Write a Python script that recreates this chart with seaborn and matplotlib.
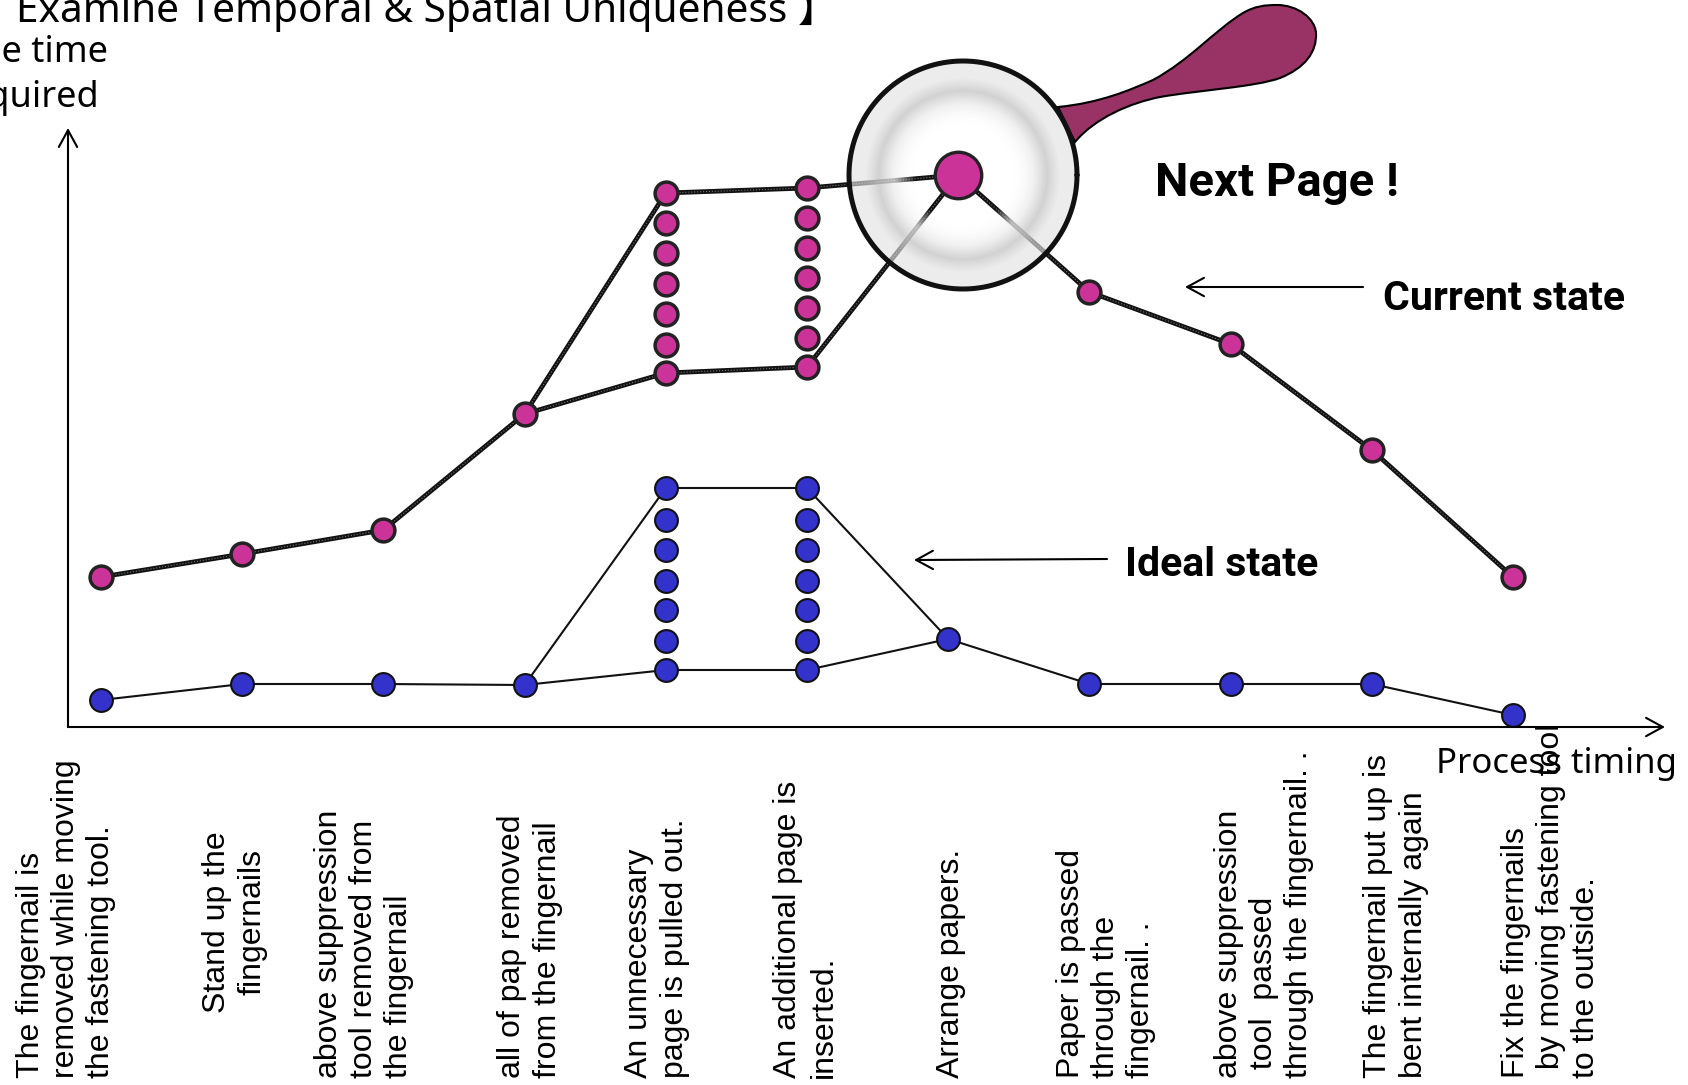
# %% biblioteke
import numpy as np
import pandas as pd
import matplotlib
matplotlib.use('Agg')
import matplotlib.pyplot as plt
from matplotlib.patches import PathPatch
from matplotlib.path import Path
import seaborn as sns

# %% podaci (time required)

current_upper_x = [0, 1, 2, 3, 4, 5, 6.07, 7, 8, 9, 10]
current_upper_y = [150, 173, 197, 313, 534, 539, 552, 435, 383, 277, 150]
current_lower_x = [3, 4, 5, 6.07]
current_lower_y = [313, 354, 360, 552]
current_col4_y = [534, 504, 474, 443, 413, 382, 354]
current_col5_y = [539, 509, 479, 449, 419, 389, 360]

ideal_lower_x = [0, 1, 2, 3, 4, 5, 6, 7, 8, 9, 10]
ideal_lower_y = [27, 43, 43, 42, 57, 57, 88, 43, 43, 43, 12]
ideal_upper_x = [3, 4, 5, 6]
ideal_upper_y = [42, 239, 239, 88]
ideal_col_y = [239, 207, 177, 146, 117, 86, 57]

step_labels = [
    'The fingernail is\nremoved while moving\nthe fastening tool.',
    'Stand up the\nfingernails',
    'above suppression\ntool removed from\nthe fingernail',
    'all of pap removed\nfrom the fingernail',
    'An unnecessary\npage is pulled out.',
    'An additional page is\ninserted.',
    'Arrange papers.',
    'Paper is passed\nthrough the\nfingernail. .',
    'above suppression\n tool  passed\nthrough the fingernail. .',
    'The fingernail put up is\nbent internally again',
    'Fix the fingernails\n by moving fastening tool\nto the outside.',
]
label_px = [66, 235, 364, 530, 657, 806, 951, 1106, 1264, 1396, 1551]

PINK = '#CC3399'
BLUE = '#3333CC'
HANDLE = '#993366'

# %% platno
sns.set_theme(style='white')
plt.rcParams['text.color'] = 'black'
plain = ['Noto Sans', 'Noto Sans CJK JP', 'DejaVu Sans']

W, H = 1688, 1085
STEP = 141.2
fig = plt.figure(figsize=(W / 100, H / 100), dpi=100)
ax = fig.add_axes([0, 0, 1, 1])
ax.axis('off')


def px(x):
    return (x - 101) / STEP


def py(y):
    return 727 - y


# %% linije
def draw_line(xs, ys, dark):
    d = pd.DataFrame({'x': xs, 'y': ys})
    if dark:
        sns.lineplot(data=d, x='x', y='y', sort=False, estimator=None, color='#111111',
                     linewidth=3.4, ax=ax, zorder=2)
        sns.lineplot(data=d, x='x', y='y', sort=False, estimator=None, color='#777777',
                     linewidth=0.8, linestyle=':', ax=ax, zorder=2.1)
    else:
        sns.lineplot(data=d, x='x', y='y', sort=False, estimator=None, color='#111111',
                     linewidth=1.5, ax=ax, zorder=2)


draw_line(current_upper_x, current_upper_y, True)
draw_line(current_lower_x, current_lower_y, True)
draw_line(ideal_lower_x, ideal_lower_y, False)
draw_line(ideal_upper_x, ideal_upper_y, False)

# tackice
pink_x = [x for x in current_upper_x if x != 6.07 and x not in (4, 5)] + [4] * 7 + [5] * 7
pink_y = [150, 173, 197, 313, 435, 383, 277, 150] + current_col4_y + current_col5_y
sns.scatterplot(x=pink_x, y=pink_y, s=270, color=PINK, edgecolor='#222222', linewidth=2.5,
                ax=ax, zorder=3, legend=False)
blue_x = [x for x in ideal_lower_x if x not in (4, 5)] + [4] * 7 + [5] * 7
blue_y = [27, 43, 43, 42, 88, 43, 43, 43, 12] + ideal_col_y + ideal_col_y
sns.scatterplot(x=blue_x, y=blue_y, s=270, color=BLUE, edgecolor='#111111', linewidth=1.5,
                ax=ax, zorder=3, legend=False)

# %% lupa
cx, cy, r = 963, 175, 114
handle_pts = [(1058, 107), (1100, 103), (1130, 90), (1153, 80),
              (1190, 60), (1215, 30), (1243, 13),
              (1255, 6), (1265, 5), (1277, 5),
              (1297, 5), (1315, 18), (1316, 33),
              (1317, 52), (1305, 68), (1280, 78),
              (1255, 87), (1200, 90), (1160, 97),
              (1130, 103), (1095, 118), (1075, 142)]
codes = [Path.MOVETO] + [Path.CURVE4] * 21 + [Path.CLOSEPOLY]
verts = [(px(a), py(b)) for a, b in handle_pts] + [(px(1058), py(107))]
ax.add_patch(PathPatch(Path(verts, codes), facecolor=HANDLE, edgecolor='black', linewidth=1.5, zorder=4))

n = 400
gx, gy = np.meshgrid(np.linspace(-1, 1, n), np.linspace(-1, 1, n))
rr = np.sqrt(gx ** 2 + gy ** 2)
grey = np.interp(rr, [0, 0.45, 0.62, 0.74, 0.86, 1], [1, 1, 0.93, 0.79, 0.89, 0.89])
alpha = np.interp(rr, [0, 0.42, 0.6, 0.74, 0.86, 1], [0, 0, 0.75, 0.85, 0.65, 0.65])
alpha[rr > 1] = 0
rgba = np.dstack([grey, grey, grey, alpha])
ax.imshow(rgba, extent=[px(cx - r), px(cx + r), py(cy + r), py(cy - r)], origin='lower',
          aspect='auto', zorder=5, interpolation='bilinear')
theta = np.linspace(0, 2 * np.pi, 300)
ax.plot(px(cx + r * np.cos(theta)), py(cy + r * np.sin(theta)), color='#111111', linewidth=3.6, zorder=6)

# vrh krive iznad lupe
sns.scatterplot(x=[6.07], y=[552], s=1120, color=PINK, edgecolor='#222222', linewidth=2.4,
                ax=ax, zorder=7, legend=False)

ax.set_xlim(-101 / STEP, (W - 101) / STEP)
ax.set_ylim(727 - H, 727)

# %% ose i strelice
head = '->,head_length=0.55,head_width=0.3'
for tip, tail in [((68, 128), (68, 727)), ((1665, 727), (68, 727)),
                  ((1185, 287), (1363, 287)), ((914, 560), (1107, 559))]:
    ax.annotate('', xy=(px(tip[0]), py(tip[1])), xytext=(px(tail[0]), py(tail[1])),
                arrowprops=dict(arrowstyle=head, color='black', lw=1.5, shrinkA=0, shrinkB=0,
                                mutation_scale=22))

# %% tekst
ax.text(px(16), py(22), 'Examine Temporal & Spatial Uniqueness 】', fontsize=29.2, family=plain,
        ha='left', va='baseline', zorder=8)
ax.text(px(34), py(62), 'The time', fontsize=26, family=plain, ha='center', va='baseline')
ax.text(px(26), py(107), 'required', fontsize=26, family=plain, ha='center', va='baseline')
ax.text(px(1557), py(764), 'Process timing', fontsize=25, family=plain, ha='center', va='center')

ax.text(px(1155), py(196), 'Next Page !', fontsize=34, family='Roboto', weight='bold', ha='left', va='baseline')
ax.text(px(1383), py(299), 'Current state', fontsize=29.5, family='Roboto', weight='bold', ha='left', va='center')
ax.text(px(1125), py(565), 'Ideal state', fontsize=29.5, family='Roboto', weight='bold', ha='left', va='center')

for x_pos, lab in zip(label_px, step_labels):
    if lab.startswith('Stand'):
        ax.text(px(x_pos), py(1013), lab, rotation=90, fontsize=23, family='Liberation Sans',
                ha='center', va='bottom', multialignment='center', linespacing=1.22, zorder=8)
    else:
        ax.text(px(x_pos), py(1078), lab, rotation=90, fontsize=23, family='Liberation Sans',
                ha='center', va='bottom', multialignment='left', linespacing=1.22, zorder=8)

plt.savefig('out.png', dpi=100)
